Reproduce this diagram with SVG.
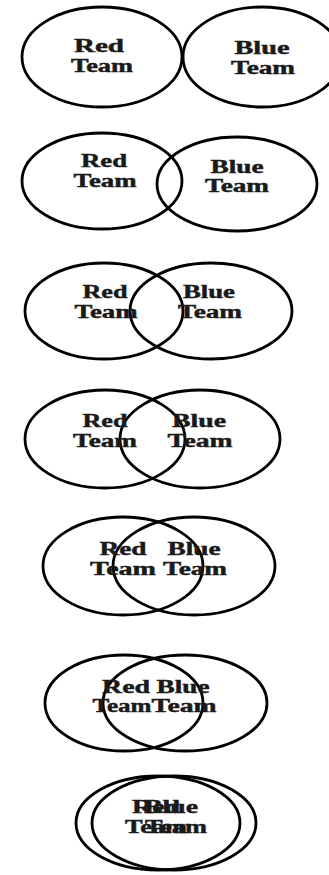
<svg xmlns="http://www.w3.org/2000/svg" width="329" height="875" viewBox="0 0 329 875">
  <style>
    .set { fill: none; stroke: #000; stroke-width: 2.8; }
    .lbl { font-family: "Liberation Serif", "Times New Roman", serif; font-weight: bold; font-size: 18px; fill: #1a1a1a; stroke: #1a1a1a; stroke-width: 0.45; text-anchor: middle; }
  </style>
  <rect width="329" height="875" fill="#fff"/>

  <!-- Stage 1: separate -->
  <g id="stage1">
    <ellipse class="set" cx="102" cy="57" rx="80" ry="50"/>
    <ellipse class="set" cx="262" cy="57" rx="79" ry="50"/>
    <text class="lbl" x="99" y="52" textLength="50" lengthAdjust="spacingAndGlyphs">Red</text>
    <text class="lbl" x="102" y="72" textLength="62" lengthAdjust="spacingAndGlyphs">Team</text>
    <text class="lbl" x="262" y="54" textLength="55" lengthAdjust="spacingAndGlyphs">Blue</text>
    <text class="lbl" x="263" y="74" textLength="64" lengthAdjust="spacingAndGlyphs">Team</text>
  </g>

  <!-- Stage 2 -->
  <g id="stage2">
    <ellipse class="set" cx="102" cy="181" rx="80" ry="48"/>
    <ellipse class="set" cx="237" cy="184" rx="80" ry="47"/>
    <text class="lbl" x="104" y="167" textLength="46" lengthAdjust="spacingAndGlyphs">Red</text>
    <text class="lbl" x="105" y="187" textLength="63" lengthAdjust="spacingAndGlyphs">Team</text>
    <text class="lbl" x="237" y="173" textLength="53" lengthAdjust="spacingAndGlyphs">Blue</text>
    <text class="lbl" x="237" y="192" textLength="64" lengthAdjust="spacingAndGlyphs">Team</text>
  </g>

  <!-- Stage 3 -->
  <g id="stage3">
    <ellipse class="set" cx="104" cy="311" rx="79" ry="48"/>
    <ellipse class="set" cx="211" cy="311" rx="81" ry="48"/>
    <text class="lbl" x="105" y="298" textLength="45" lengthAdjust="spacingAndGlyphs">Red</text>
    <text class="lbl" x="106" y="318" textLength="63" lengthAdjust="spacingAndGlyphs">Team</text>
    <text class="lbl" x="209" y="298" textLength="52" lengthAdjust="spacingAndGlyphs">Blue</text>
    <text class="lbl" x="210" y="318" textLength="64" lengthAdjust="spacingAndGlyphs">Team</text>
  </g>

  <!-- Stage 4 -->
  <g id="stage4">
    <ellipse class="set" cx="105" cy="439" rx="80" ry="49"/>
    <ellipse class="set" cx="200" cy="439" rx="80" ry="49"/>
    <text class="lbl" x="105" y="427" textLength="45" lengthAdjust="spacingAndGlyphs">Red</text>
    <text class="lbl" x="105" y="447" textLength="64" lengthAdjust="spacingAndGlyphs">Team</text>
    <text class="lbl" x="199" y="427" textLength="54" lengthAdjust="spacingAndGlyphs">Blue</text>
    <text class="lbl" x="200" y="447" textLength="65" lengthAdjust="spacingAndGlyphs">Team</text>
  </g>

  <!-- Stage 5 -->
  <g id="stage5">
    <ellipse class="set" cx="123" cy="566" rx="80" ry="49"/>
    <ellipse class="set" cx="194" cy="566" rx="81" ry="49"/>
    <text class="lbl" x="123" y="555" textLength="47" lengthAdjust="spacingAndGlyphs">Red</text>
    <text class="lbl" x="123" y="575" textLength="66" lengthAdjust="spacingAndGlyphs">Team</text>
    <text class="lbl" x="194" y="555" textLength="53" lengthAdjust="spacingAndGlyphs">Blue</text>
    <text class="lbl" x="195" y="575" textLength="64" lengthAdjust="spacingAndGlyphs">Team</text>
  </g>

  <!-- Stage 6 -->
  <g id="stage6">
    <ellipse class="set" cx="124" cy="703" rx="79" ry="48"/>
    <ellipse class="set" cx="185" cy="703" rx="82" ry="48"/>
    <text class="lbl" x="126" y="693" textLength="48" lengthAdjust="spacingAndGlyphs">Red</text>
    <text class="lbl" x="122" y="712" textLength="59" lengthAdjust="spacingAndGlyphs">Team</text>
    <text class="lbl" x="183" y="693" textLength="53" lengthAdjust="spacingAndGlyphs">Blue</text>
    <text class="lbl" x="184" y="712" textLength="65" lengthAdjust="spacingAndGlyphs">Team</text>
  </g>

  <!-- Stage 7: almost fully overlapping -->
  <g id="stage7">
    <ellipse class="set" cx="158" cy="823" rx="82" ry="47"/>
    <ellipse class="set" cx="174" cy="823" rx="82" ry="47"/>
    <text class="lbl" x="156" y="813" textLength="48" lengthAdjust="spacingAndGlyphs">Red</text>
    <text class="lbl" x="156" y="833" textLength="62" lengthAdjust="spacingAndGlyphs">Team</text>
    <text class="lbl" x="171" y="813" textLength="54" lengthAdjust="spacingAndGlyphs">Blue</text>
    <text class="lbl" x="176" y="833" textLength="62" lengthAdjust="spacingAndGlyphs">Team</text>
  </g>
</svg>
